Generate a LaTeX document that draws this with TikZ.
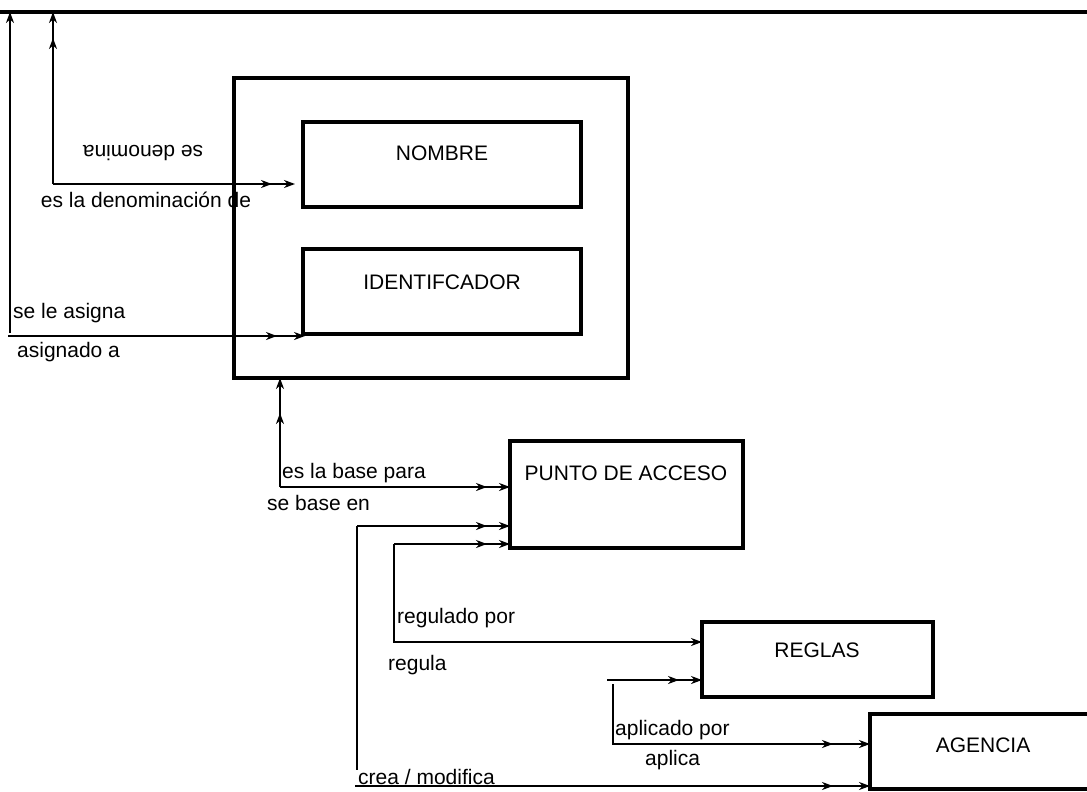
\documentclass[tikz,border=0pt]{standalone}
\usepackage{fontspec}
\setmainfont{Liberation Sans}
\usetikzlibrary{arrows.meta,decorations.markings}
\begin{document}
\begin{tikzpicture}[x=1pt,y=-1pt,
  font=\fontsize{21}{25}\selectfont,
  >={Stealth[length=11pt,width=8pt,inset=3.5pt]},
  box/.style={draw,line width=4pt,inner sep=0pt,outer sep=0pt},
  lbl/.style={inner sep=0pt},
  wire/.style={line width=2pt},
  onetip/.style={wire,->},
  twotip/.style={wire,->,postaction={decorate,decoration={markings,
      mark=at position -#1 with {\arrow{>}}}}},
  twotip/.default=23pt]
\clip (0,0) rectangle (1087,792);

% labels of the relations
\node[lbl,rotate=180] (tden) at (143,153) {se denomina};
\node[lbl] (tdende) at (146,200) {es la denominación de};
\node[lbl,anchor=west] (tasig) at (13,313) {se le asigna};
\node[lbl,anchor=west] (tasigd) at (17,352) {asignado a};
\node[lbl,anchor=west] (tbase) at (282,473) {es la base para};
\node[lbl,anchor=west] (tbasen) at (267,503) {se base en};
\node[lbl,anchor=west] (treg) at (397,618) {regulado por};
\node[lbl,anchor=west] (tregu) at (388,665) {regula};
\node[lbl,anchor=west] (tapl) at (615,730) {aplicado por};
\node[lbl,anchor=west] (tapli) at (645,760) {aplica};
\node[lbl,anchor=west] (tcrea) at (358,777) {crea / modifica};

% entity boxes
\node[box,minimum width=394pt,minimum height=300pt] (frame) at (431,228) {};
\node[box,minimum width=278pt,minimum height=85pt] (nombre) at (442,164.5) {};
\node[box,minimum width=278pt,minimum height=85pt] (ident) at (442,291.5) {};
\node[box,minimum width=233pt,minimum height=107pt] (punto) at (626.5,494.5) {};
\node[box,minimum width=231pt,minimum height=75pt] (reglas) at (817.5,659.5) {};
\node[box,minimum width=240pt,minimum height=75pt] (agencia) at (990,751.5) {};

\node[lbl] (lnombre) at (442,153) {NOMBRE};
\node[lbl] (lident) at (442,282) {IDENTIFCADOR};
\node[lbl] (lpunto) at (626,473) {PUNTO DE ACCESO};
\node[lbl] (lreglas) at (817,650) {REGLAS};
\node[lbl] (lagencia) at (983,745) {AGENCIA};

% top rule
\coordinate (tl) at (0,12);
\coordinate (tr) at (1087,12);
\draw[line width=4pt] (tl) -- (tr);

% se le asigna / asignado a
\coordinate (v1) at (10,333);
\draw[onetip] (v1) -- (v1 |- tl);
\coordinate (h1) at (8,336);
\draw[twotip=28pt] (h1) -- ([xshift=2pt]h1 -| ident.west);

% se denomina / es la denominacion de
\coordinate (v2) at (53,184);
\draw[twotip=26pt] (v2) -- (v2 |- tl);
\draw[twotip] (v2) -- ([xshift=-8pt]v2 -| nombre.west);

% es la base para / se base en
\coordinate (b1) at (280,487);
\draw[twotip=35pt] (b1) -- (b1 |- frame.south);
\draw[twotip] (b1) -- (b1 -| punto.west);

% crea / modifica
\coordinate (c1) at (357,526);
\coordinate (c1e) at (357,770);
\draw[twotip] (c1) -- (c1 -| punto.west);
\draw[wire] (c1) -- (c1e);
\coordinate (m1) at (355,786);
\draw[twotip=37pt] (m1) -- (m1 -| agencia.west);

% regulado por / regula
\coordinate (r1) at (394,544);
\coordinate (r2) at (394,642);
\draw[twotip] (r1) -- (r1 -| punto.west);
\draw[onetip] (r1) -- (r2) -- (r2 -| reglas.west);

% aplicado por / aplica
\coordinate (a1) at (607,680);
\draw[twotip] (a1) -- (a1 -| reglas.west);
\coordinate (a2) at (613,684);
\coordinate (a3) at (613,744);
\draw[twotip=37pt] (a2) -- (a3) -- (a3 -| agencia.west);
\end{tikzpicture}
\end{document}
